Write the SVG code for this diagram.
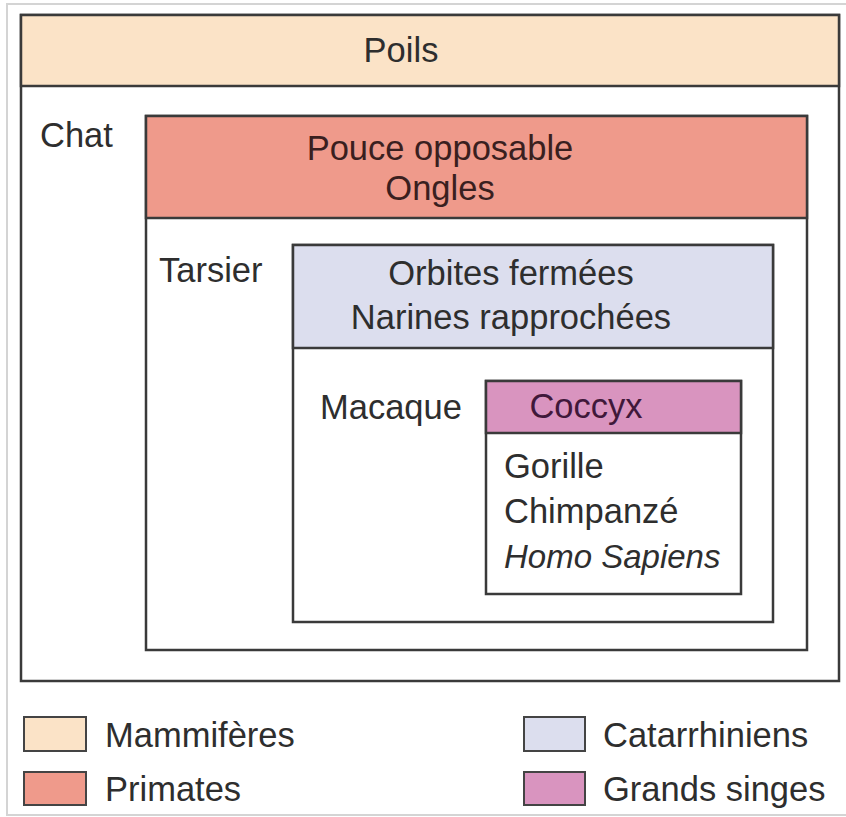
<svg xmlns="http://www.w3.org/2000/svg" width="846" height="817" viewBox="0 0 846 817">
<style>
text{font-family:"Liberation Sans",Arial,sans-serif;font-size:34.5px;fill:#2e2e2e}
.c{text-anchor:middle}
.box{stroke:#3a3a3a;stroke-width:2.5}
.sw{stroke:#444;stroke-width:2}
</style>
<rect width="846" height="817" fill="#ffffff"/>
<rect x="7" y="4" width="845" height="811" fill="none" stroke="#d4d4d4" stroke-width="2"/>
<g id="mammiferes">
<rect class="box" x="21" y="15" width="818" height="666" fill="#ffffff"/>
<rect class="box" x="21" y="15" width="818" height="71" fill="#fbe3c7"/>
<text class="c" x="401" y="62">Poils</text>
<text x="40" y="147">Chat</text>
</g>
<g id="primates">
<rect class="box" x="146" y="116" width="661" height="534" fill="#ffffff"/>
<rect class="box" x="146" y="116" width="661" height="102" fill="#ef9a8b"/>
<text class="c" x="440" y="160" style="fill:#3a1f1f">Pouce opposable</text>
<text class="c" x="440" y="200" style="fill:#3a1f1f">Ongles</text>
<text x="159" y="282">Tarsier</text>
</g>
<g id="catarrhiniens">
<rect class="box" x="293" y="245" width="480" height="377" fill="#ffffff"/>
<rect class="box" x="293" y="245" width="480" height="103" fill="#dcdeee"/>
<text class="c" x="511" y="285">Orbites fermées</text>
<text class="c" x="511" y="329">Narines rapprochées</text>
<text x="320" y="419">Macaque</text>
</g>
<g id="grands-singes">
<rect class="box" x="486" y="381" width="255" height="213" fill="#ffffff"/>
<rect class="box" x="486" y="381" width="255" height="52" fill="#d994bf"/>
<text class="c" x="586" y="418" style="fill:#40183a">Coccyx</text>
<text x="504" y="478">Gorille</text>
<text x="504" y="523">Chimpanzé</text>
<text x="504" y="568" font-style="italic" style="font-size:33px">Homo Sapiens</text>
</g>
<g id="legend">
<rect class="sw" x="24" y="717" width="62" height="34" fill="#fbe3c7"/>
<text x="105" y="747">Mammifères</text>
<rect class="sw" x="24" y="772" width="62" height="33" fill="#ef9a8b"/>
<text x="105" y="801">Primates</text>
<rect class="sw" x="524" y="717" width="61" height="34" fill="#dcdeee"/>
<text x="603" y="747">Catarrhiniens</text>
<rect class="sw" x="524" y="772" width="61" height="33" fill="#d994bf"/>
<text x="603" y="801">Grands singes</text>
</g>
</svg>
